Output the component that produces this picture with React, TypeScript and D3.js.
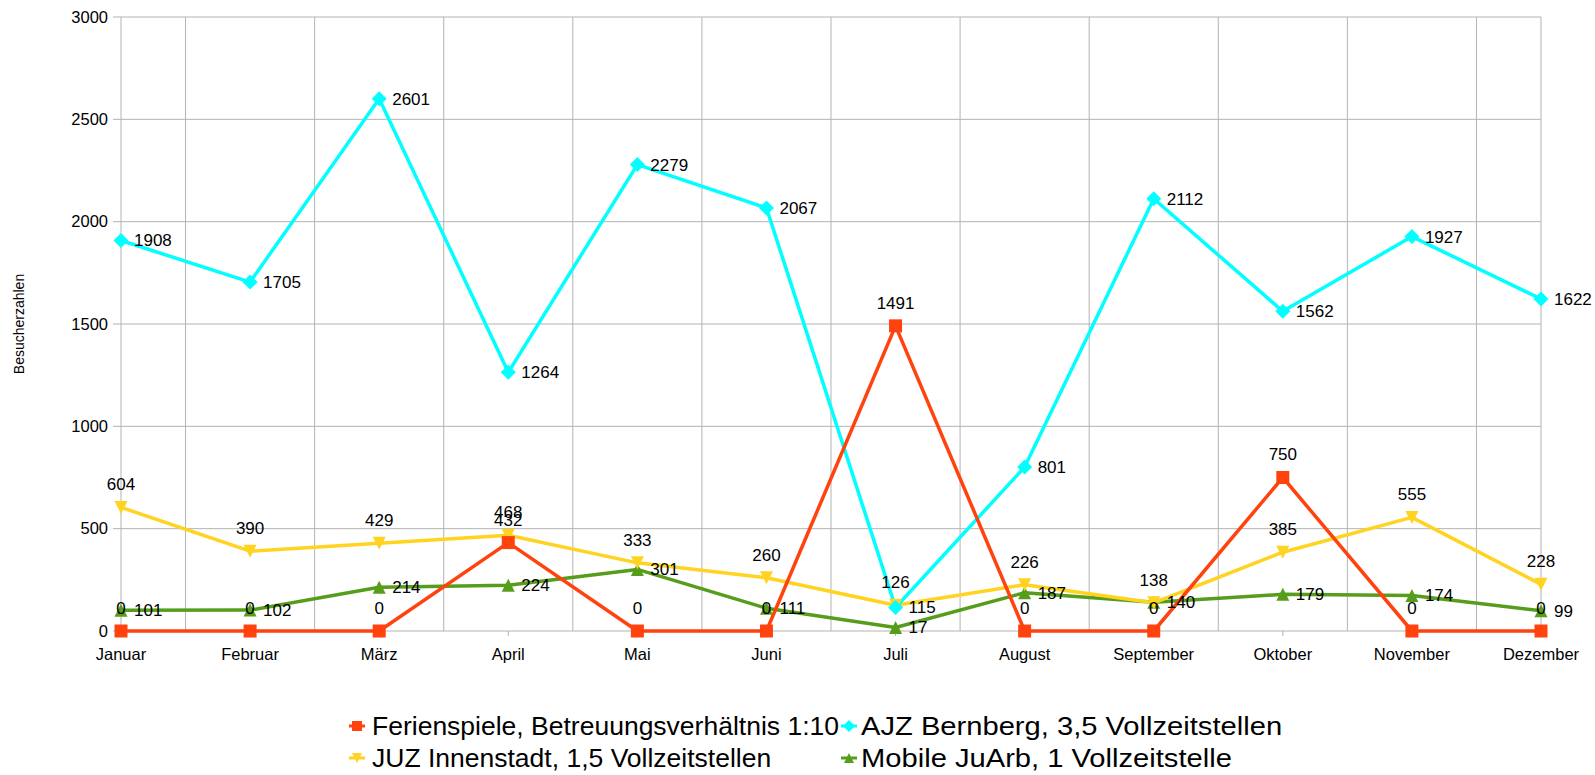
import React from 'react';
import * as d3 from 'd3';

const months = ['Januar', 'Februar', 'März', 'April', 'Mai', 'Juni', 'Juli', 'August', 'September', 'Oktober', 'November', 'Dezember'];
const ferienspiele = [0, 0, 0, 432, 0, 0, 1491, 0, 0, 750, 0, 0];
const ajzBernberg = [1908, 1705, 2601, 1264, 2279, 2067, 115, 801, 2112, 1562, 1927, 1622];
const juzInnenstadt = [604, 390, 429, 468, 333, 260, 126, 226, 138, 385, 555, 228];
const mobileJuArb = [101, 102, 214, 224, 301, 111, 17, 187, 140, 179, 174, 99];
const yTicks = [0, 500, 1000, 1500, 2000, 2500, 3000];

type Series = { name: string; values: number[]; color: string; marker: string; label: 'top' | 'right' };

const series: Series[] = [
  { name: 'Ferienspiele, Betreuungsverhältnis 1:10', values: ferienspiele, color: '#ff420e', marker: 'square', label: 'top' },
  { name: 'AJZ Bernberg, 3,5 Vollzeitstellen', values: ajzBernberg, color: '#00ffff', marker: 'diamond', label: 'right' },
  { name: 'JUZ Innenstadt, 1,5 Vollzeitstellen', values: juzInnenstadt, color: '#ffd320', marker: 'down', label: 'top' },
  { name: 'Mobile JuArb, 1 Vollzeitstelle', values: mobileJuArb, color: '#579d1c', marker: 'up', label: 'right' },
];

const W = 1595;
const H = 775;
const left = 121;
const right = 1541;
const top = 17;
const bottom = 631;
const font = '"Liberation Sans", Arial, sans-serif';

const markerPath = (kind: string, s: number) => {
  const h = s / 2;
  if (kind === 'square') return `M${-h},${-h}H${h}V${h}H${-h}Z`;
  if (kind === 'diamond') return `M0,${-h - 1}L${h + 1},0L0,${h + 1}L${-h - 1},0Z`;
  if (kind === 'down') return `M${-h},${-h}L${h},${-h}L0,${h}Z`;
  return `M${-h},${h}L${h},${h}L0,${-h}Z`;
};

const App = () => {
  const x = d3.scalePoint<string>().domain(months).range([left, right]);
  const y = d3.scaleLinear().domain([0, 3000]).range([bottom, top]);
  const step = x.step();
  const line = d3.line<number>()
    .x((_, i) => x(months[i]) as number)
    .y(d => y(d));

  // grid lines sit between the categories, plus the plot edges
  const vGrid = [left, ...months.slice(0, -1).map(m => (x(m) as number) + step / 2), right];
  const drawOrder = [3, 2, 1, 0];

  return (
    <div style={{ position: 'absolute', left: 0, top: 0 }}>
      <svg width={W} height={H} style={{ display: 'block', fontFamily: font }}>
        <rect width={W} height={H} fill="#fff" />
        {yTicks.map(t => (
          <line key={'h' + t} x1={left} x2={right} y1={y(t)} y2={y(t)} stroke="#b3b3b3" strokeWidth={1} />
        ))}
        {vGrid.map((gx, i) => (
          <line key={'v' + i} x1={gx} x2={gx} y1={top} y2={bottom} stroke="#b3b3b3" strokeWidth={1} />
        ))}
        {yTicks.map(t => (
          <g key={'yt' + t}>
            <line x1={113} x2={left} y1={y(t)} y2={y(t)} stroke="#b3b3b3" />
            <text x={108} y={y(t)} dy="0.35em" textAnchor="end" fontSize={16.5} fill="#000">{t}</text>
          </g>
        ))}
        {months.map(m => (
          <g key={'xt' + m}>
            <line x1={x(m)} x2={x(m)} y1={bottom} y2={bottom + 5} stroke="#b3b3b3" />
            <text x={x(m)} y={654} dy="0.35em" textAnchor="middle" fontSize={16.5} fill="#000">{m}</text>
          </g>
        ))}
        <text transform={`translate(19,${(top + bottom) / 2}) rotate(-90)`} textAnchor="middle" dy="0.35em" fontSize={14} fill="#000">Besucherzahlen</text>
        {drawOrder.map(si => (
          <path key={'l' + si} d={line(series[si].values) as string} fill="none" stroke={series[si].color} strokeWidth={3.5} strokeLinejoin="round" />
        ))}
        {drawOrder.map(si => series[si].values.map((v, i) => (
          <path key={'m' + si + '-' + i} d={markerPath(series[si].marker, 13)} transform={`translate(${x(months[i])},${y(v)})`} fill={series[si].color} />
        )))}
        {series.map((s, si) => s.values.map((v, i) => {
          const px = x(months[i]) as number;
          const py = y(v);
          return s.label === 'top'
            ? <text key={'t' + si + '-' + i} x={px} y={py - 23} dy="0.35em" textAnchor="middle" fontSize={17} fill="#000">{v}</text>
            : <text key={'t' + si + '-' + i} x={px + 13} y={py} dy="0.35em" textAnchor="start" fontSize={17} fill="#000">{v}</text>;
        }))}
        {/* legend */}
        {series.map((s, si) => {
          const col = si % 2;
          const row = Math.floor(si / 2);
          const mx = col === 0 ? 357 : 849;
          const my = row === 0 ? 726 : 758;
          const tx = col === 0 ? mx + 15 : mx + 12;
          const sx = col === 0 ? 1 : 1.1;
          return (
            <g key={'lg' + si}>
              <line x1={mx - 8} x2={mx + 8} y1={my} y2={my} stroke={s.color} strokeWidth={3} />
              <path d={markerPath(s.marker, 10)} transform={`translate(${mx},${my})`} fill={s.color} />
              <text transform={`translate(${tx},${my}) scale(${sx},1)`} dy="0.35em" fontSize={26.5} fill="#000">{s.name}</text>
            </g>
          );
        })}
      </svg>
    </div>
  );
};

export default App;
